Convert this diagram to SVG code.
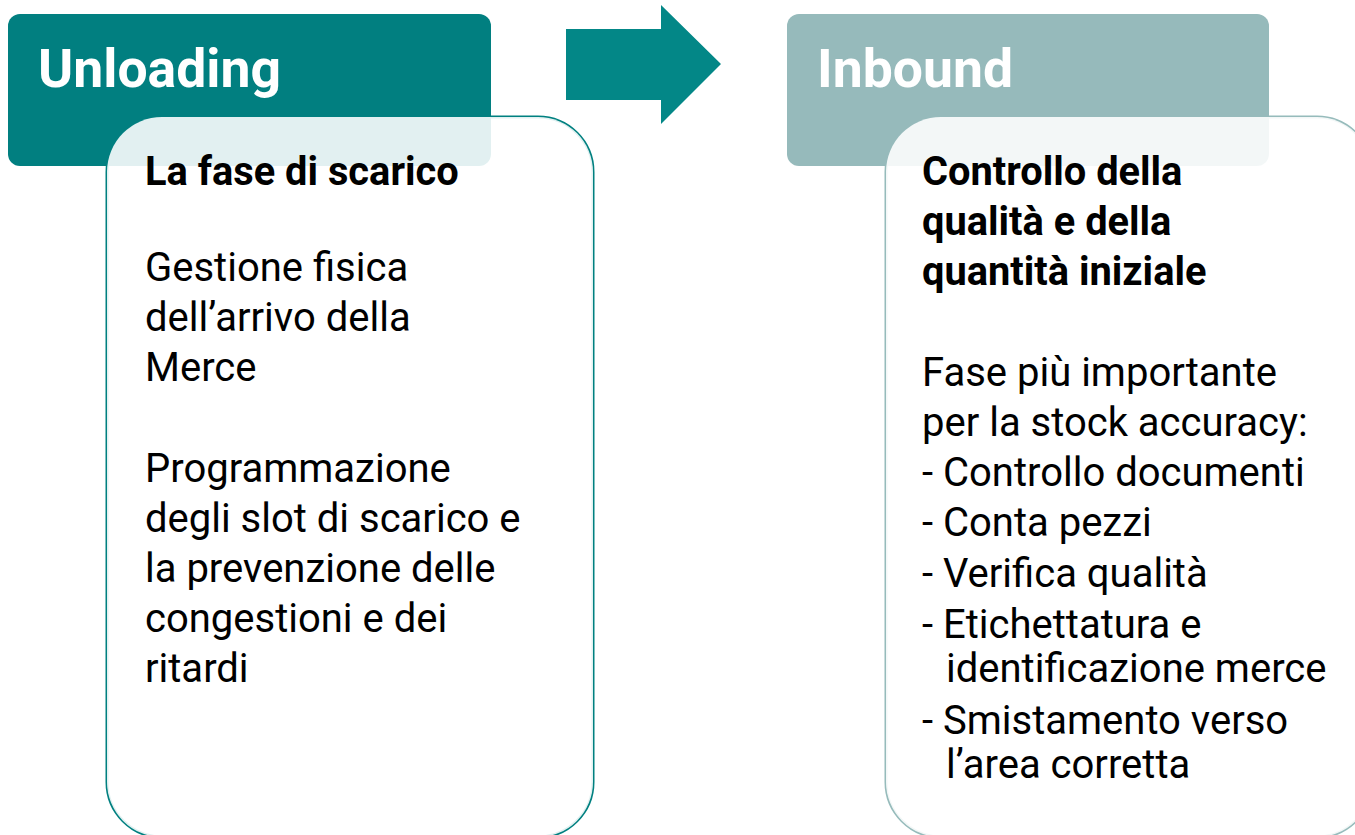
<svg xmlns="http://www.w3.org/2000/svg" width="1355" height="835" viewBox="0 0 1355 835">
<style>
.hdr{font-family:Roboto,"Liberation Sans",sans-serif;font-weight:700;font-size:53.5px;fill:#ffffff}
.tt{font-family:Roboto,"Liberation Sans",sans-serif;font-weight:700;font-size:39.8px;fill:#000000}
.bd{font-family:Roboto,"Liberation Sans",sans-serif;font-weight:400;font-size:40px;fill:#000000}
.veil{fill:#ffffff;fill-opacity:0.885}
</style>
<rect width="1355" height="835" fill="#ffffff"/>
<g id="unloading">
<rect x="107" y="117" width="486" height="720" rx="55" ry="55" fill="#ffffff" stroke="#008080" stroke-width="3"/>
<rect x="8" y="14" width="483" height="152" rx="12" ry="12" fill="#017f80"/>
<rect class="veil" x="107" y="117" width="486" height="720" rx="55" ry="55"/>
<text class="hdr" x="38" y="87">Unloading</text>
<text class="tt" x="145" y="185">La fase di scarico</text>
<text class="bd" x="145" y="281">Gestione fisica</text>
<text class="bd" x="145" y="331">dell’arrivo della</text>
<text class="bd" x="145" y="381">Merce</text>
<text class="bd" x="145" y="482">Programmazione</text>
<text class="bd" x="145" y="532">degli slot di scarico e</text>
<text class="bd" x="145" y="582">la prevenzione delle</text>
<text class="bd" x="145" y="632">congestioni e dei</text>
<text class="bd" x="145" y="682">ritardi</text>
</g>
<g id="connectors">
<polygon points="566,29 661,29 661,5 721,64 661,124 661,100 566,100" fill="#038787"/>
</g>
<g id="inbound">
<rect x="886" y="117" width="486" height="720" rx="55" ry="55" fill="#ffffff" stroke="#96bbbb" stroke-width="3"/>
<rect x="787" y="14" width="482" height="152" rx="12" ry="12" fill="#96babb"/>
<rect class="veil" x="886" y="117" width="486" height="720" rx="55" ry="55"/>
<text class="hdr" x="817" y="87">Inbound</text>
<text class="tt" x="922" y="185">Controllo della</text>
<text class="tt" x="922" y="235">qualità e della</text>
<text class="tt" x="922" y="285">quantità iniziale</text>
<text class="bd" x="922" y="386">Fase più importante</text>
<text class="bd" x="922" y="436">per la stock accuracy:</text>
<text class="bd" x="922" y="486">- Controllo documenti</text>
<text class="bd" x="922" y="536">- Conta pezzi</text>
<text class="bd" x="922" y="587">- Verifica qualità</text>
<text class="bd" x="922" y="638">- Etichettatura e</text>
<text class="bd" x="946" y="682">identificazione merce</text>
<text class="bd" x="922" y="734">- Smistamento verso</text>
<text class="bd" x="946" y="778">l’area corretta</text>
</g>
</svg>
